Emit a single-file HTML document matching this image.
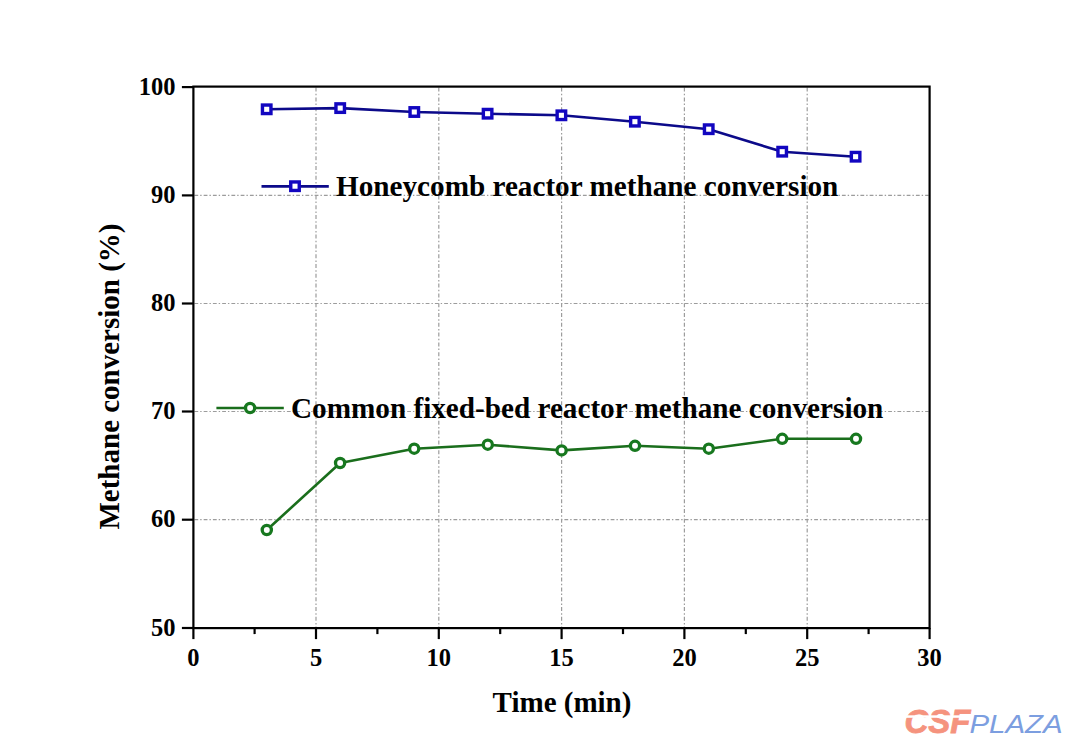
<!DOCTYPE html>
<html><head><meta charset="utf-8"><title>Methane conversion</title>
<style>
html,body{margin:0;padding:0;background:#fff;}
body{width:1080px;height:753px;overflow:hidden;position:relative;}
svg{display:block;position:absolute;left:0;top:0;}
.t{font-family:"Liberation Serif","Times New Roman",serif;font-weight:bold;fill:#000;}
.wm{position:absolute;left:0;top:0;}
</style></head><body>
<svg width="1080" height="753" viewBox="0 0 1080 753">
<rect x="0" y="0" width="1080" height="753" fill="#fff"/>

<g stroke="#9c9c9c" stroke-width="1.2" stroke-dasharray="4 2.2 1.5 2.1" fill="none">
<line x1="194.4" y1="519.7" x2="928.6" y2="519.7" stroke-dasharray="3.8 2 1.4 2.05"/>
<line x1="194.4" y1="411.5" x2="928.6" y2="411.5" stroke-dasharray="3.8 2 1.4 2.05"/>
<line x1="194.4" y1="303.5" x2="928.6" y2="303.5" stroke-dasharray="3.8 2 1.4 2.05"/>
<line x1="194.4" y1="195.4" x2="928.6" y2="195.4" stroke-dasharray="3.8 2 1.4 2.05"/>
<line x1="316.0" y1="87.6" x2="316.0" y2="627.1"/>
<line x1="438.8" y1="87.6" x2="438.8" y2="627.1"/>
<line x1="561.6" y1="87.6" x2="561.6" y2="627.1"/>
<line x1="684.4" y1="87.6" x2="684.4" y2="627.1"/>
<line x1="807.2" y1="87.6" x2="807.2" y2="627.1"/>
</g>
<g stroke="#000" stroke-width="2.2" fill="none" stroke-linecap="square">
<rect x="193.4" y="86.6" width="736.2" height="541.5"/>
<line x1="181.9" y1="628.0" x2="193.4" y2="628.0" stroke-linecap="butt"/>
<line x1="181.9" y1="519.7" x2="193.4" y2="519.7" stroke-linecap="butt"/>
<line x1="181.9" y1="411.5" x2="193.4" y2="411.5" stroke-linecap="butt"/>
<line x1="181.9" y1="303.5" x2="193.4" y2="303.5" stroke-linecap="butt"/>
<line x1="181.9" y1="195.4" x2="193.4" y2="195.4" stroke-linecap="butt"/>
<line x1="181.9" y1="87.1" x2="193.4" y2="87.1" stroke-linecap="butt"/>
<line x1="193.4" y1="628.1" x2="193.4" y2="639.1" stroke-linecap="butt"/>
<line x1="316.0" y1="628.1" x2="316.0" y2="639.1" stroke-linecap="butt"/>
<line x1="438.8" y1="628.1" x2="438.8" y2="639.1" stroke-linecap="butt"/>
<line x1="561.6" y1="628.1" x2="561.6" y2="639.1" stroke-linecap="butt"/>
<line x1="684.4" y1="628.1" x2="684.4" y2="639.1" stroke-linecap="butt"/>
<line x1="807.2" y1="628.1" x2="807.2" y2="639.1" stroke-linecap="butt"/>
<line x1="929.6" y1="628.1" x2="929.6" y2="639.1" stroke-linecap="butt"/>
<line x1="254.6" y1="628.1" x2="254.6" y2="634.1" stroke-linecap="butt"/>
<line x1="377.4" y1="628.1" x2="377.4" y2="634.1" stroke-linecap="butt"/>
<line x1="500.2" y1="628.1" x2="500.2" y2="634.1" stroke-linecap="butt"/>
<line x1="623.0" y1="628.1" x2="623.0" y2="634.1" stroke-linecap="butt"/>
<line x1="745.8" y1="628.1" x2="745.8" y2="634.1" stroke-linecap="butt"/>
<line x1="868.6" y1="628.1" x2="868.6" y2="634.1" stroke-linecap="butt"/>
</g>
<g class="t" font-size="24.5" text-anchor="end">
<text x="175.6" y="635.7">50</text>
<text x="175.6" y="527.4">60</text>
<text x="175.6" y="419.2">70</text>
<text x="175.6" y="311.2">80</text>
<text x="175.6" y="203.1">90</text>
<text x="175.6" y="94.8">100</text>
</g>
<g class="t" font-size="24.5" text-anchor="middle">
<text x="193.4" y="666">0</text>
<text x="316.0" y="666">5</text>
<text x="438.8" y="666">10</text>
<text x="561.6" y="666">15</text>
<text x="684.4" y="666">20</text>
<text x="807.2" y="666">25</text>
<text x="929.6" y="666">30</text>
</g>
<text class="t" font-size="29" x="562" y="711.8" text-anchor="middle">Time (min)</text>
<text class="t" font-size="29" transform="translate(118.7,376.5) rotate(-90)" text-anchor="middle">Methane conversion (%)</text>
<polyline points="266.7,109.3 340.2,108.1 414.3,112.0 487.6,113.7 561.4,115.3 634.9,121.7 708.7,129.2 782.2,151.7 855.6,156.7" fill="none" stroke="#0c0a8a" stroke-width="2.6" stroke-linejoin="round"/>
<polyline points="266.8,530.0 340.1,463.0 414.2,448.7 487.8,444.7 561.6,450.4 635.0,445.8 708.8,448.7 782.2,438.8 856.0,438.8" fill="none" stroke="#1a6e1c" stroke-width="2.6" stroke-linejoin="round"/>
<g fill="#fff" stroke="#1206c0" stroke-width="3.4">
<rect x="262.45" y="105.05" width="8.5" height="8.5"/>
<rect x="335.95" y="103.85" width="8.5" height="8.5"/>
<rect x="410.05" y="107.75" width="8.5" height="8.5"/>
<rect x="483.35" y="109.45" width="8.5" height="8.5"/>
<rect x="557.15" y="111.05" width="8.5" height="8.5"/>
<rect x="630.65" y="117.45" width="8.5" height="8.5"/>
<rect x="704.45" y="124.95" width="8.5" height="8.5"/>
<rect x="777.95" y="147.45" width="8.5" height="8.5"/>
<rect x="851.35" y="152.45" width="8.5" height="8.5"/>
</g>
<g fill="#fff" stroke="#17781f" stroke-width="3.3">
<circle cx="266.8" cy="530.0" r="4.6"/>
<circle cx="340.1" cy="463.0" r="4.6"/>
<circle cx="414.2" cy="448.7" r="4.6"/>
<circle cx="487.8" cy="444.7" r="4.6"/>
<circle cx="561.6" cy="450.4" r="4.6"/>
<circle cx="635.0" cy="445.8" r="4.6"/>
<circle cx="708.8" cy="448.7" r="4.6"/>
<circle cx="782.2" cy="438.8" r="4.6"/>
<circle cx="856.0" cy="438.8" r="4.6"/>
</g>
<line x1="261.5" y1="186.4" x2="328.8" y2="186.4" stroke="#0c0a8a" stroke-width="2.6" stroke-linecap="butt"/>
<rect x="290.75" y="181.95" width="8.5" height="8.5" fill="#fff" stroke="#1206c0" stroke-width="3.4"/>
<text class="t" font-size="29.2" x="336" y="195.5">Honeycomb reactor methane conversion</text>
<line x1="216.4" y1="408" x2="283.8" y2="408" stroke="#1a6e1c" stroke-width="2.6" stroke-linecap="butt"/>
<circle cx="250.1" cy="408" r="4.6" fill="#fff" stroke="#17781f" stroke-width="3.3"/>
<text class="t" font-size="29.2" x="291" y="417.8">Common fixed-bed reactor methane conversion</text>
<g transform="translate(904.5,732.6) scale(1.0,1)"><text x="0" y="0" font-family="Liberation Sans, sans-serif" font-weight="bold" font-style="italic" font-size="33" fill="#f5937e" stroke="#f5937e" stroke-width="0.8">CSF</text></g>
<rect x="900" y="715.3" width="71" height="2.5" fill="#fff"/>
<g transform="translate(969.5,732.8) scale(1.11,1)"><text x="0" y="0" font-family="Liberation Sans, sans-serif" font-style="italic" font-size="26.5" fill="#7c9ee0">PLAZA</text></g>
</svg>
</body></html>
